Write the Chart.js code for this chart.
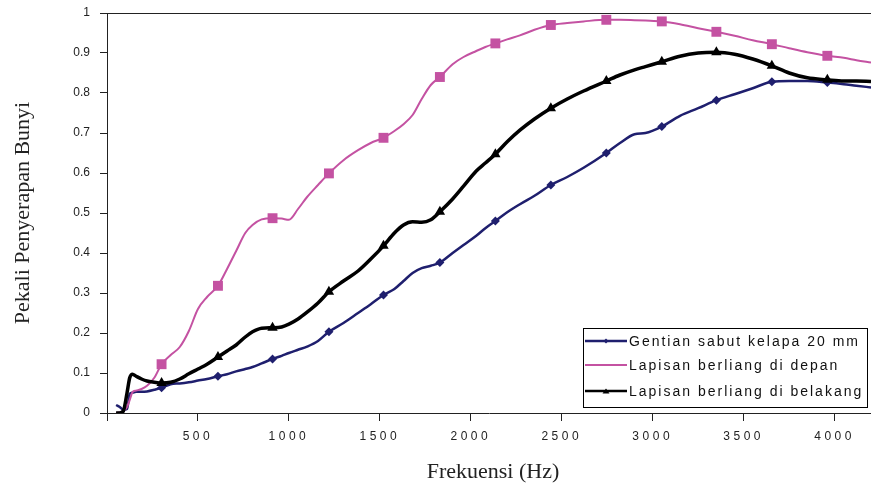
<!DOCTYPE html>
<html>
<head>
<meta charset="utf-8">
<script src="https://cdn.jsdelivr.net/npm/chart.js@4/dist/chart.umd.min.js"></script>
<style>
  body { margin: 0; background: #fff; }
  #wrap { width: 871px; height: 484px; }
</style>
</head>
<body>
<div id="wrap"><canvas id="chart" width="871" height="484"></canvas></div>
<script>
// frequency (Hz) of each sample, shared by the three curves
const freqs = [
  50, 70, 90, 110, 125, 140, 160, 190, 220, 260,
  300, 350, 400, 450, 500, 550, 610, 660, 710, 760,
  800, 850, 910, 960, 1000, 1050, 1100, 1160, 1220, 1300,
  1380, 1450, 1520, 1580, 1630, 1680, 1730, 1780, 1830, 1900,
  1960, 2030, 2080, 2135, 2200, 2270, 2350, 2440, 2530, 2620,
  2745, 2820, 2900, 2960, 3050, 3150, 3250, 3350, 3450, 3550,
  3655, 3750, 3850, 3960, 4050, 4120, 4200
];

const gentian = [
  0.02, 0.015, 0.008, 0.01, 0.048, 0.051, 0.053, 0.053, 0.054, 0.058,
  0.063, 0.072, 0.074, 0.077, 0.081, 0.085, 0.092, 0.097, 0.104, 0.11,
  0.115, 0.124, 0.135, 0.143, 0.15, 0.158, 0.166, 0.18, 0.203, 0.225,
  0.25, 0.272, 0.295, 0.31, 0.33, 0.35, 0.362, 0.368, 0.376, 0.4,
  0.42, 0.443, 0.462, 0.48, 0.502, 0.522, 0.543, 0.57, 0.59, 0.613,
  0.65, 0.675, 0.697, 0.7, 0.716, 0.743, 0.762, 0.782, 0.797, 0.812,
  0.828, 0.83, 0.83, 0.826, 0.822, 0.818, 0.814
];

const depan = [
  0, 0.002, 0.005, 0.015, 0.033, 0.052, 0.056, 0.06, 0.068, 0.088,
  0.122, 0.145, 0.165, 0.205, 0.26, 0.29, 0.318, 0.36, 0.405, 0.45,
  0.47, 0.484, 0.487, 0.486, 0.483, 0.51, 0.54, 0.57, 0.599, 0.632,
  0.657, 0.675, 0.688, 0.705, 0.722, 0.745, 0.785, 0.82, 0.84, 0.872,
  0.89, 0.905, 0.915, 0.924, 0.934, 0.944, 0.958, 0.97, 0.975, 0.979,
  0.983, 0.983, 0.982, 0.981, 0.979, 0.972, 0.962, 0.953, 0.943, 0.932,
  0.922, 0.912, 0.902, 0.893, 0.888, 0.882, 0.876
];

const belakang = [
  0, 0, 0.005, 0.05, 0.088, 0.097, 0.092, 0.085, 0.08, 0.077,
  0.075, 0.077, 0.085, 0.098, 0.11, 0.122, 0.14, 0.155, 0.17, 0.19,
  0.203, 0.212, 0.213, 0.215, 0.222, 0.235, 0.252, 0.275, 0.303, 0.33,
  0.355, 0.385, 0.418, 0.45, 0.47, 0.478, 0.477, 0.483, 0.503, 0.535,
  0.567, 0.605, 0.625, 0.647, 0.678, 0.707, 0.735, 0.762, 0.785, 0.805,
  0.83, 0.845, 0.858, 0.866, 0.878, 0.892, 0.9, 0.902, 0.897, 0.885,
  0.868, 0.85, 0.838, 0.833, 0.83, 0.83, 0.829
];

// frequencies where the curves carry a marker
const markerFreqs = [300, 610, 910, 1220, 1520, 1830, 2135, 2440, 2745, 3050, 3350, 3655, 3960];

// axis ticks (0 on x is left unlabelled)
const xTicks = [0, 500, 1000, 1500, 2000, 2500, 3000, 3500, 4000];
const yTicks = [0, 0.1, 0.2, 0.3, 0.4, 0.5, 0.6, 0.7, 0.8, 0.9, 1];

const seriesLabels = [
  'Gentian sabut kelapa 20 mm',
  'Lapisan berliang di depan',
  'Lapisan berliang di belakang'
];

const SANS = '"Liberation Sans", Arial, sans-serif';
const SERIF = '"Liberation Serif", "Times New Roman", serif';

function points(values) {
  return freqs.map((f, i) => ({ x: f, y: values[i] }));
}

function markerRadius(r) {
  return ctx => markerFreqs.includes(freqs[ctx.dataIndex]) ? r : 0;
}

// letter spacing for the x tick labels, x title, top border and legend box
const frame = {
  id: 'frame',
  beforeDraw(chart) {
    chart.ctx.letterSpacing = '0px';
  },
  afterDatasetsDraw(chart) {
    // x tick labels are on layer z=1, drawn right after this
    chart.ctx.letterSpacing = '3.5px';
  },
  afterDraw(chart) {
    const { ctx, chartArea: a } = chart;
    ctx.save();
    ctx.letterSpacing = '0px';

    ctx.strokeStyle = '#222';
    ctx.lineWidth = 1;
    ctx.beginPath();
    ctx.moveTo(a.left, a.top + 0.5);
    ctx.lineTo(a.right, a.top + 0.5);
    ctx.stroke();

    ctx.fillStyle = '#222';
    ctx.font = '22px ' + SERIF;
    ctx.textAlign = 'center';
    ctx.textBaseline = 'alphabetic';
    ctx.fillText('Frekuensi (Hz)', (a.left + a.right) / 2 + 4, 478);

    // legend box
    const lx = 583.5, ly = 328.5, lw = 284, lh = 79;
    ctx.fillStyle = '#fff';
    ctx.fillRect(lx, ly, lw, lh);
    ctx.strokeStyle = '#000';
    ctx.lineWidth = 1;
    ctx.strokeRect(lx, ly, lw, lh);

    const rows = [341, 365, 391];
    ctx.font = '14px ' + SANS;
    ctx.letterSpacing = '2px';
    ctx.textAlign = 'left';
    ctx.textBaseline = 'middle';
    chart.data.datasets.forEach((ds, i) => {
      const y = rows[i];
      ctx.strokeStyle = ds.borderColor;
      ctx.lineWidth = Math.min(ds.borderWidth, 2.5);
      ctx.beginPath();
      ctx.moveTo(585, y);
      ctx.lineTo(627, y);
      ctx.stroke();
      ctx.fillStyle = ds.borderColor;
      if (ds.pointStyle === 'rectRot') {
        ctx.beginPath();
        ctx.moveTo(606, y - 2.5); ctx.lineTo(608.5, y); ctx.lineTo(606, y + 2.5); ctx.lineTo(603.5, y);
        ctx.closePath();
        ctx.fill();
      } else if (ds.pointStyle === 'triangle') {
        ctx.beginPath();
        ctx.moveTo(606, y - 2.5); ctx.lineTo(609.5, y + 2.5); ctx.lineTo(602.5, y + 2.5);
        ctx.closePath();
        ctx.fill();
      }
      ctx.fillStyle = '#111';
      ctx.fillText(ds.label, 629, y + 1);
    });
    ctx.restore();
  }
};

new Chart(document.getElementById('chart'), {
  type: 'line',
  data: {
    datasets: [
      {
        label: seriesLabels[0],
        data: points(gentian),
        borderColor: '#1f1f6e',
        backgroundColor: '#1f1f6e',
        borderWidth: 2.5,
        pointStyle: 'rectRot',
        pointRadius: markerRadius(4.5),
        pointBorderWidth: 0,
        cubicInterpolationMode: 'monotone',
        order: 3
      },
      {
        label: seriesLabels[1],
        data: points(depan),
        borderColor: '#c452a2',
        backgroundColor: '#c452a2',
        borderWidth: 2,
        pointStyle: 'rect',
        pointRadius: markerRadius(7),
        pointBorderWidth: 0,
        cubicInterpolationMode: 'monotone',
        order: 2
      },
      {
        label: seriesLabels[2],
        data: points(belakang),
        borderColor: '#000000',
        backgroundColor: '#000000',
        borderWidth: 3.5,
        pointStyle: 'triangle',
        pointRadius: markerRadius(6),
        pointBorderWidth: 0,
        cubicInterpolationMode: 'monotone',
        order: 1
      }
    ]
  },
  options: {
    responsive: false,
    animation: false,
    layout: { padding: 0 },
    plugins: {
      legend: { display: false },
      tooltip: { enabled: false }
    },
    scales: {
      x: {
        type: 'linear',
        min: 0,
        max: 4200,
        afterFit: s => { s.height = 71; },
        afterBuildTicks: s => { s.ticks = xTicks.map(v => ({ value: v })); },
        border: { display: true, color: '#222', width: 1 },
        grid: { display: true, drawOnChartArea: false, drawTicks: true, tickLength: 8, color: '#222' },
        ticks: {
          autoSkip: false,
          maxRotation: 0,
          padding: 8,
          z: 1,
          color: '#222',
          font: { family: SANS, size: 12 },
          callback: v => v === 0 ? '' : String(v)
        }
      },
      y: {
        min: 0,
        max: 1,
        afterFit: s => { s.width = 107; s.paddingTop = 13; s.paddingBottom = 0; },
        afterBuildTicks: s => { s.ticks = yTicks.map(v => ({ value: v })); },
        border: { display: true, color: '#222', width: 1 },
        grid: { display: true, drawOnChartArea: false, drawTicks: true, tickLength: 7, color: '#222' },
        ticks: {
          padding: 10,
          color: '#222',
          font: { family: SANS, size: 12 },
          callback: v => String(v)
        },
        title: {
          display: true,
          text: 'Pekali Penyerapan Bunyi',
          color: '#222',
          font: { family: SERIF, size: 22 },
          padding: { top: 10, bottom: 0 }
        }
      }
    }
  },
  plugins: [frame]
});
</script>
</body>
</html>
